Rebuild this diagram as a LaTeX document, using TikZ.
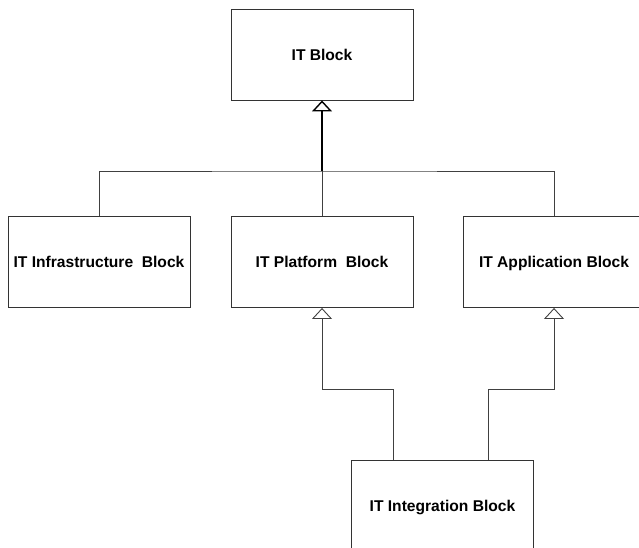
\documentclass[tikz,border=0pt]{standalone}
\usepackage{fontspec}
\setmainfont{Liberation Sans}
\usetikzlibrary{arrows.meta}

\tikzset{
    blk/.style={draw=black!80, line width=0.9pt, minimum width=182pt, minimum height=91pt,
        inner sep=0pt, text height=11.2pt, text depth=0pt,
        font=\fontsize{15.6}{18}\selectfont\bfseries},
    gen/.style={draw=black!75, line width=0.9pt, -{Triangle[open,width=20pt,length=11pt,fill=white]}},
    lnk/.style={draw=black!75, line width=0.9pt}
}

\begin{document}
\begin{tikzpicture}[x=1pt,y=-1pt]
        \clip (0,0) rectangle (639,548);
        \node[blk] (it) at (322,54.5) {IT Block};
        \node[blk] (infra) at (99,262) {IT Infrastructure\ \ Block};
        \node[blk] (plat) at (322,262) {IT Platform\ \ Block};
        \node[blk] (app) at (554,262) {IT Application Block};
        \node[blk] (integ) at (442.5,506) {IT Integration Block};
        \coordinate (bus) at (322,171);
        \coordinate (kl) at (393,389);
        \coordinate (kr) at (488,389);
        \draw[gen, draw=black, line width=1.4pt] (bus) -- (it.south);
        \draw[lnk] (plat.north) -- (bus);
        \draw[lnk] (infra.north) |- (bus) -| (app.north);
        \draw[gen] (integ.north -| kl) -- (kl) -| (plat.south);
        \draw[gen] (integ.north -| kr) -- (kr) -| (app.south);
    \end{tikzpicture}
\end{document}
